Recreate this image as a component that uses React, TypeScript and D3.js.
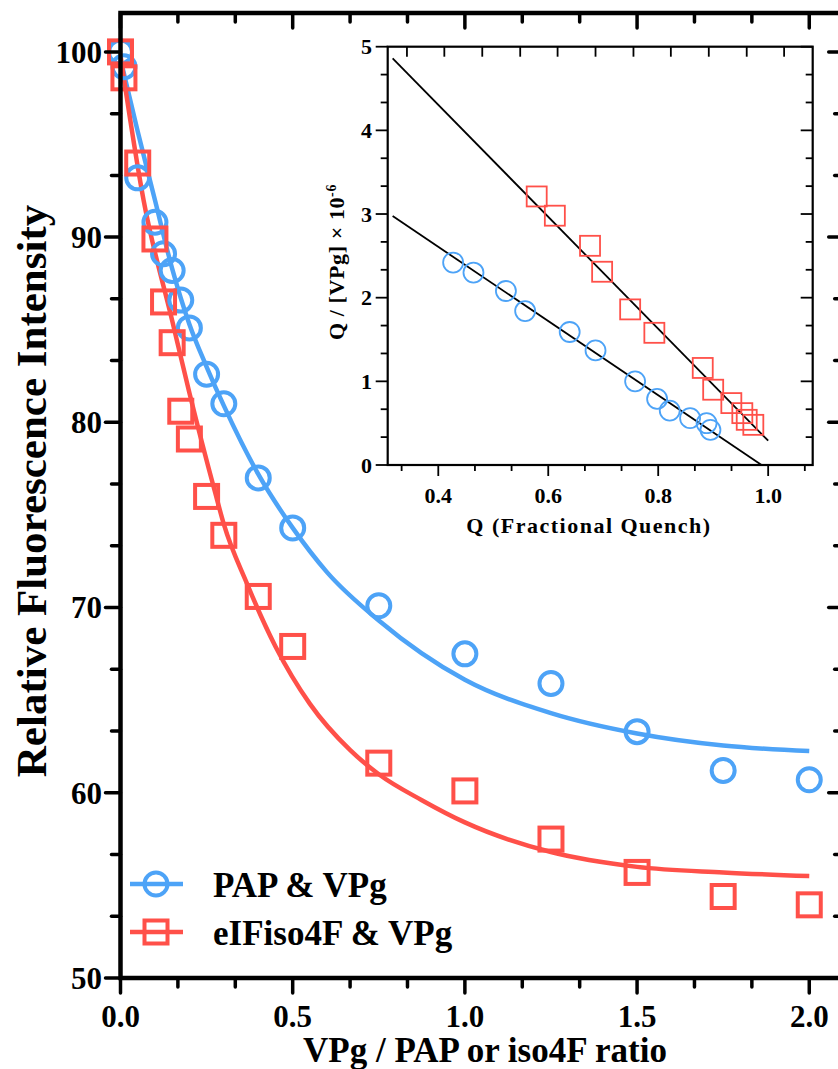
import React from 'react';
import * as d3 from 'd3';

// main panel: VPg / protein ratio vs relative fluorescence
const ratioX = [0, 0.01, 0.05, 0.1, 0.125, 0.15, 0.175, 0.2, 0.25, 0.3, 0.4, 0.5, 0.75, 1.0, 1.25, 1.5, 1.75, 2.0];
const papY = [100, 99.2, 93.2, 90.8, 89.1, 88.2, 86.6, 85.1, 82.6, 81.0, 77.0, 74.3, 70.1, 67.5, 65.9, 63.3, 61.2, 60.7];
const isoY = [100, 98.6, 94.0, 89.9, 86.5, 84.3, 80.6, 79.1, 76.0, 73.9, 70.6, 67.9, 61.6, 60.1, 57.5, 55.7, 54.4, 53.95];

// fitted curves
const papFitX = [0, 0.05, 0.1, 0.15, 0.2, 0.25, 0.3, 0.4, 0.5, 0.6, 0.75, 1.0, 1.25, 1.5, 1.75, 2.0];
const papFitY = [99.6, 95.7, 92.0, 88.3, 85.3, 83.0, 80.9, 77.2, 74.3, 71.9, 69.3, 66.1, 64.3, 63.2, 62.55, 62.25];
const isoFitX = [0, 0.067, 0.15, 0.2, 0.275, 0.3, 0.367, 0.45, 0.55, 0.667, 0.75, 0.875, 1.0, 1.25, 1.5, 1.75, 2.0];
const isoFitY = [99.8, 92.0, 85.5, 81.6, 76.2, 74.5, 71.3, 67.9, 64.8, 62.3, 61.0, 59.6, 58.4, 56.8, 56.0, 55.7, 55.5];

const xTicks = [0, 0.5, 1.0, 1.5, 2.0];
const yTicks = [50, 60, 70, 80, 90, 100];

// inset: Q vs Q/[VPg]
const papQ = [0.427, 0.464, 0.523, 0.558, 0.639, 0.686, 0.758, 0.798, 0.821, 0.858, 0.888, 0.895];
const papQv = [2.42, 2.30, 2.08, 1.84, 1.59, 1.37, 1.00, 0.79, 0.65, 0.56, 0.50, 0.42];
const isoQ = [0.579, 0.612, 0.676, 0.698, 0.749, 0.793, 0.881, 0.900, 0.933, 0.953, 0.961, 0.973];
const isoQv = [3.21, 2.98, 2.62, 2.31, 1.86, 1.58, 1.16, 0.90, 0.74, 0.62, 0.54, 0.48];
const papLineQ = [0.317, 0.988];
const papLineV = [2.976, 0];
const isoLineQ = [0.317, 1.0];
const isoLineV = [4.86, 0.29];

const insetXTicks = [0.4, 0.6, 0.8, 1.0];
const insetYTicks = [0, 1, 2, 3, 4, 5];
const insetTopTicks = [0.343, 0.411, 0.480, 0.549, 0.617, 0.686, 0.755, 0.823, 0.892, 0.961, 1.029];

const BLUE = '#4da3f7';
const RED = '#ff5049';
const FONT = '"Liberation Serif", "Times New Roman", serif';

export default function App() {
  const W = 838, H = 1069;

  const x = d3.scaleLinear().domain([0, 2.1]).range([120.5, 843.7]);
  const y = d3.scaleLinear().domain([50, 102.1]).range([978, 13]);

  const ix = d3.scaleLinear().domain([0.308, 1.081]).range([387.7, 812.7]);
  const iy = d3.scaleLinear().domain([0, 5]).range([465, 46.7]);

  const line = d3.line<[number, number]>()
    .x(d => x(d[0]))
    .y(d => y(d[1]))
    .curve(d3.curveMonotoneX);
  const iline = d3.line<[number, number]>().x(d => ix(d[0])).y(d => iy(d[1]));

  const xMinor = d3.range(0, 2.09, 0.5 / 3);
  const yMinor = d3.range(50, 102, 10 / 3);
  const ixMinor = d3.range(1 / 3, 1.08, 0.2 / 3);
  const iyMinor = d3.range(0, 5.01, 1 / 3);

  const [x0, x1] = x.range();
  const [y0, y1] = y.range();
  const [ix0, ix1] = ix.range();
  const [iy0, iy1] = iy.range();

  const isMajor = (v: number, step: number) => Math.abs(v / step - Math.round(v / step)) < 1e-6;

  const circle = (cx: number, cy: number, r: number, color: string, sw: number, key: any) => (
    <circle key={key} cx={cx} cy={cy} r={r} fill="none" stroke={color} strokeWidth={sw} />
  );
  const square = (cx: number, cy: number, s: number, color: string, sw: number, key: any) => (
    <rect key={key} x={cx - s / 2} y={cy - s / 2} width={s} height={s} fill="none" stroke={color} strokeWidth={sw} />
  );

  return (
    <svg width={W} height={H} style={{ position: 'absolute', left: 0, top: 0, background: '#fff' }}
      fontFamily={FONT} fontWeight="bold">
      {/* main fit curves */}
      <path d={line(papFitX.map((v, i) => [v, papFitY[i]]))!} fill="none" stroke={BLUE} strokeWidth={4.5} />
      <path d={line(isoFitX.map((v, i) => [v, isoFitY[i]]))!} fill="none" stroke={RED} strokeWidth={4.5} />

      {/* main markers */}
      {ratioX.map((v, i) => circle(x(v), y(papY[i]), 11.5, BLUE, 4, 'c' + i))}
      {ratioX.map((v, i) => square(x(v), y(isoY[i]), 23, RED, 4, 's' + i))}

      {/* main axes */}
      <g stroke="#000" strokeLinecap="round">
        {xMinor.map((v, i) => {
          const len = isMajor(v, 0.5) ? 15 : 9;
          return (
            <g key={'xt' + i} strokeWidth={3.5}>
              <line x1={x(v)} x2={x(v)} y1={y0} y2={y0 + len} />
              <line x1={x(v)} x2={x(v)} y1={y1} y2={y1 + len} />
            </g>
          );
        })}
        {yMinor.map((v, i) => {
          const len = isMajor(v, 10) ? 15 : 9;
          return (
            <g key={'yt' + i} strokeWidth={3.5}>
              <line x1={x0 - len} x2={x0} y1={y(v)} y2={y(v)} />
              <line x1={x1 - len} x2={x1} y1={y(v)} y2={y(v)} />
            </g>
          );
        })}
        <rect x={x0} y={y1} width={x1 - x0} height={y0 - y1} fill="none" strokeWidth={4.5} strokeLinecap="butt" />
      </g>
      {xTicks.map(v => (
        <text key={'xl' + v} x={x(v)} y={1027} textAnchor="middle" fontSize={31}>{v.toFixed(1)}</text>
      ))}
      {yTicks.map(v => (
        <text key={'yl' + v} x={102} y={y(v)} dy="0.35em" textAnchor="end" fontSize={31}>{v}</text>
      ))}
      <text x={485} y={1062} textAnchor="middle" fontSize={35}>VPg / PAP or iso4F ratio</text>
      <text transform={`translate(46,${491}) rotate(-90)`} textAnchor="middle" fontSize={43}>Relative Fluorescence Intensity</text>

      {/* legend */}
      <line x1={130} x2={183} y1={884} y2={884} stroke={BLUE} strokeWidth={4.5} />
      {circle(156, 884, 11.5, BLUE, 4, 'lc')}
      <text x={213} y={897} fontSize={35}>PAP &amp; VPg</text>
      <line x1={130} x2={183} y1={932} y2={932} stroke={RED} strokeWidth={4.5} />
      {square(156, 932, 23, RED, 4, 'ls')}
      <text x={213} y={945} fontSize={35}>eIFiso4F &amp; VPg</text>

      {/* inset */}
      <rect x={ix0} y={iy1} width={ix1 - ix0} height={iy0 - iy1} fill="#fff" />
      <path d={iline(papLineQ.map((v, i) => [v, papLineV[i]]))!} stroke="#000" strokeWidth={1.8} fill="none" />
      <path d={iline(isoLineQ.map((v, i) => [v, isoLineV[i]]))!} stroke="#000" strokeWidth={1.8} fill="none" />
      {papQ.map((v, i) => circle(ix(v), iy(papQv[i]), 10, BLUE, 1.8, 'ic' + i))}
      {isoQ.map((v, i) => square(ix(v), iy(isoQv[i]), 20, RED, 1.8, 'is' + i))}
      <g stroke="#000" strokeWidth={1.8}>
        {ixMinor.map((v, i) => {
          const len = isMajor(v, 0.2) ? 11 : 6;
          return <line key={'ixt' + i} x1={ix(v)} x2={ix(v)} y1={iy0} y2={iy0 + len} />;
        })}
        {insetTopTicks.map((v, i) => (
          <line key={'itt' + i} x1={ix(v)} x2={ix(v)} y1={iy1} y2={iy1 + 10} />
        ))}
        {iyMinor.map((v, i) => {
          const len = isMajor(v, 1) ? 12 : 7;
          return (
            <g key={'iyt' + i}>
              <line x1={ix0 - len} x2={ix0} y1={iy(v)} y2={iy(v)} />
              <line x1={ix1 - len} x2={ix1} y1={iy(v)} y2={iy(v)} />
            </g>
          );
        })}
        <rect x={ix0} y={iy1} width={ix1 - ix0} height={iy0 - iy1} fill="none" strokeWidth={2.2} />
      </g>
      {insetXTicks.map(v => (
        <text key={'ixl' + v} x={ix(v)} y={503} textAnchor="middle" fontSize={22}>{v.toFixed(1)}</text>
      ))}
      {insetYTicks.map(v => (
        <text key={'iyl' + v} x={372} y={iy(v)} dy="0.35em" textAnchor="end" fontSize={22}>{v}</text>
      ))}
      <text x={589} y={533} textAnchor="middle" fontSize={22} letterSpacing={1.5}>Q (Fractional Quench)</text>
      <text transform={`translate(344,${262}) rotate(-90)`} textAnchor="middle" fontSize={22} letterSpacing={0.6}>
        Q / [VPg] × 10<tspan dy={-8} fontSize={14}>-6</tspan>
      </text>
    </svg>
  );
}
